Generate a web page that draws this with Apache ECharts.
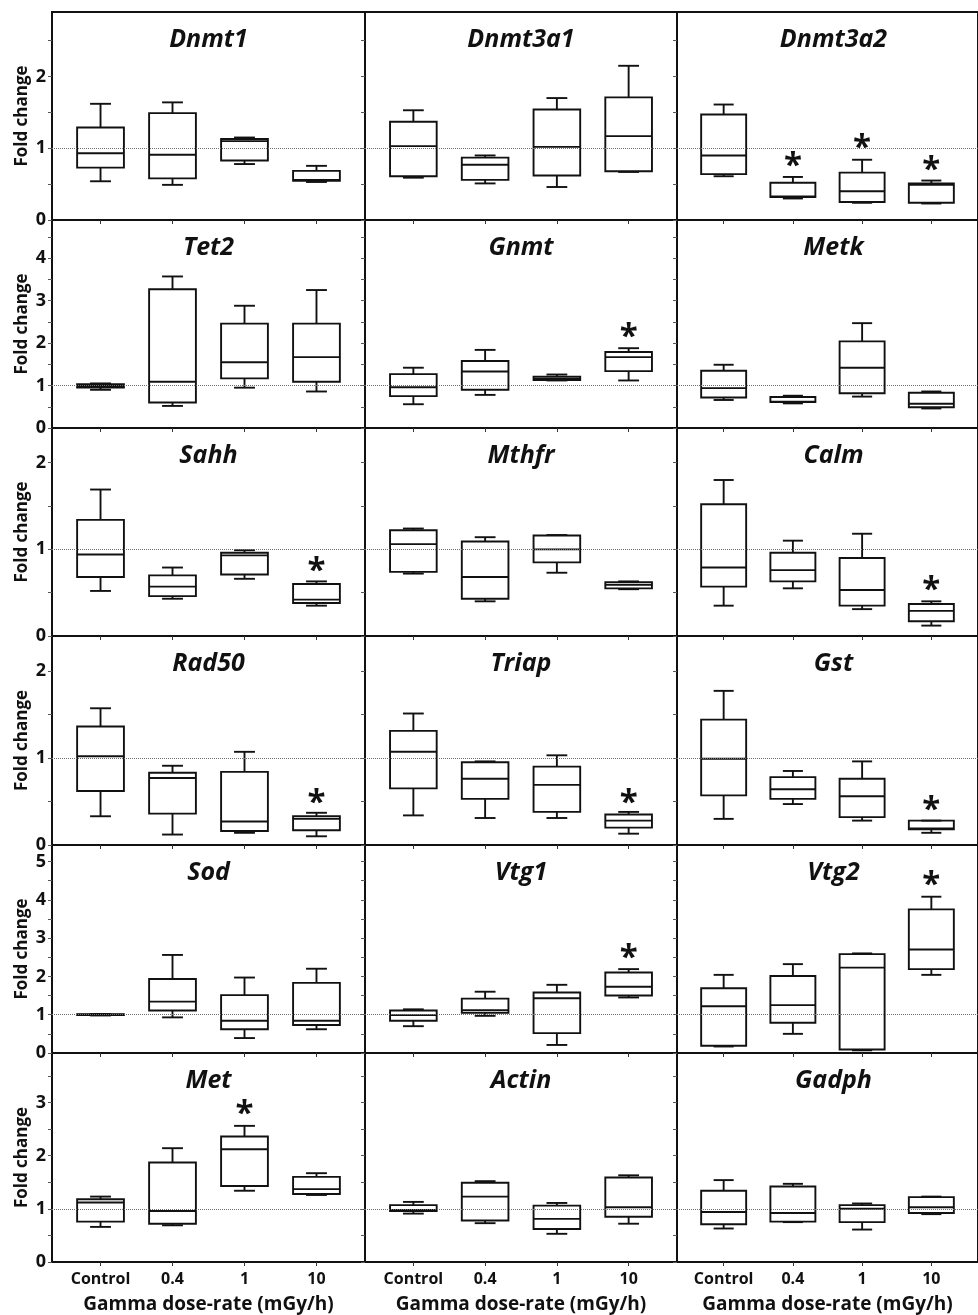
<!DOCTYPE html>
<html>
<head>
<meta charset="utf-8">
<script src="https://cdn.jsdelivr.net/npm/echarts@6/dist/echarts.min.js"></script>
<style>
  html, body { margin: 0; padding: 0; background: #fff; }
  #chart { width: 978px; height: 1315px; }
</style>
</head>
<body>
<div id="chart"></div>
<script>
// Dose groups on every x axis
const doseGroups = ['Control', '0.4', '1', '10'];

// Box statistics per dose group: [lower whisker, Q1, median, Q3, upper whisker]
const Dnmt1   = [[0.54, 0.73, 0.93, 1.29, 1.62], [0.49, 0.58, 0.91, 1.49, 1.64], [0.78, 0.83, 1.10, 1.13, 1.15], [0.53, 0.545, 0.56, 0.685, 0.755]];
const Dnmt3a1 = [[0.59, 0.61, 1.03, 1.37, 1.53], [0.51, 0.56, 0.77, 0.87, 0.90], [0.46, 0.62, 1.02, 1.54, 1.70], [0.67, 0.68, 1.17, 1.71, 2.15]];
const Dnmt3a2 = [[0.61, 0.64, 0.90, 1.47, 1.61], [0.30, 0.32, 0.33, 0.52, 0.60], [0.24, 0.25, 0.40, 0.66, 0.84], [0.23, 0.24, 0.49, 0.51, 0.55]];
const Tet2    = [[0.90, 0.95, 0.99, 1.03, 1.05], [0.52, 0.60, 1.09, 3.27, 3.57], [0.95, 1.17, 1.55, 2.46, 2.88], [0.86, 1.09, 1.67, 2.46, 3.25]];
const Gnmt    = [[0.56, 0.75, 0.96, 1.27, 1.42], [0.78, 0.90, 1.33, 1.58, 1.84], [1.12, 1.13, 1.17, 1.21, 1.26], [1.12, 1.34, 1.67, 1.79, 1.88]];
const Metk    = [[0.66, 0.72, 0.94, 1.35, 1.49], [0.58, 0.61, 0.62, 0.73, 0.76], [0.74, 0.82, 1.42, 2.04, 2.47], [0.46, 0.49, 0.57, 0.83, 0.86]];
const Sahh    = [[0.52, 0.68, 0.94, 1.34, 1.69], [0.43, 0.46, 0.57, 0.70, 0.79], [0.66, 0.71, 0.93, 0.96, 0.99], [0.35, 0.38, 0.42, 0.60, 0.63]];
const Mthfr   = [[0.72, 0.74, 1.06, 1.22, 1.24], [0.40, 0.43, 0.68, 1.09, 1.14], [0.73, 0.85, 1.00, 1.16, 1.165], [0.54, 0.55, 0.59, 0.62, 0.63]];
const Calm    = [[0.35, 0.57, 0.79, 1.52, 1.80], [0.55, 0.63, 0.76, 0.96, 1.10], [0.31, 0.35, 0.53, 0.90, 1.18], [0.12, 0.17, 0.29, 0.37, 0.40]];
const Rad50   = [[0.33, 0.62, 1.02, 1.36, 1.57], [0.12, 0.36, 0.77, 0.83, 0.91], [0.14, 0.16, 0.27, 0.84, 1.07], [0.10, 0.17, 0.30, 0.33, 0.37]];
const Triap   = [[0.34, 0.65, 1.07, 1.31, 1.51], [0.31, 0.53, 0.76, 0.95, 0.96], [0.31, 0.38, 0.69, 0.90, 1.03], [0.13, 0.20, 0.28, 0.35, 0.38]];
const Gst     = [[0.30, 0.57, 0.99, 1.44, 1.77], [0.47, 0.53, 0.64, 0.78, 0.85], [0.28, 0.32, 0.56, 0.76, 0.96], [0.14, 0.18, 0.19, 0.28, 0.28]];
const Sod     = [[0.98, 0.99, 1.00, 1.01, 1.02], [0.93, 1.11, 1.34, 1.93, 2.56], [0.39, 0.62, 0.84, 1.51, 1.97], [0.62, 0.73, 0.84, 1.83, 2.20]];
const Vtg1    = [[0.70, 0.84, 0.99, 1.11, 1.14], [0.97, 1.05, 1.12, 1.42, 1.60], [0.21, 0.52, 1.43, 1.58, 1.78], [1.45, 1.50, 1.73, 2.10, 2.19]];
const Vtg2    = [[0.17, 0.19, 1.22, 1.69, 2.04], [0.50, 0.79, 1.25, 2.01, 2.32], [0.07, 0.09, 2.23, 2.58, 2.60], [2.04, 2.19, 2.70, 3.75, 4.08]];
const Met     = [[0.66, 0.76, 1.12, 1.18, 1.23], [0.69, 0.72, 0.96, 1.87, 2.14], [1.34, 1.43, 2.12, 2.36, 2.56], [1.26, 1.28, 1.37, 1.60, 1.67]];
const Actin   = [[0.91, 0.96, 0.98, 1.07, 1.13], [0.73, 0.78, 1.23, 1.49, 1.52], [0.53, 0.62, 0.81, 1.06, 1.11], [0.72, 0.85, 1.03, 1.59, 1.63]];
const Gadph   = [[0.63, 0.71, 0.94, 1.34, 1.54], [0.75, 0.76, 0.92, 1.42, 1.47], [0.61, 0.75, 1.00, 1.07, 1.10], [0.90, 0.92, 1.03, 1.22, 1.23]];

// Panels in reading order (3 per row)
const geneNames = ['Dnmt1', 'Dnmt3a1', 'Dnmt3a2', 'Tet2', 'Gnmt', 'Metk', 'Sahh', 'Mthfr', 'Calm',
                   'Rad50', 'Triap', 'Gst', 'Sod', 'Vtg1', 'Vtg2', 'Met', 'Actin', 'Gadph'];
const geneStats = [Dnmt1, Dnmt3a1, Dnmt3a2, Tet2, Gnmt, Metk, Sahh, Mthfr, Calm,
                   Rad50, Triap, Gst, Sod, Vtg1, Vtg2, Met, Actin, Gadph];

// Significance asterisks: [gene, dose group index, fold change where the asterisk sits]
const sigMarks = [
  ['Dnmt3a2', 1, 0.84], ['Dnmt3a2', 2, 1.10], ['Dnmt3a2', 3, 0.79],
  ['Gnmt', 3, 2.29], ['Sahh', 3, 0.82], ['Calm', 3, 0.60],
  ['Rad50', 3, 0.56], ['Triap', 3, 0.56], ['Gst', 3, 0.48],
  ['Vtg1', 3, 2.66], ['Vtg2', 3, 4.56], ['Met', 2, 2.91]
];

// Y axis range and labelled ticks per row of panels
const rowYMax = [2.9, 4.9, 2.4, 2.4, 5.43, 3.93];
const rowYLabels = [[0, 1, 2], [0, 1, 2, 3, 4], [0, 1, 2], [0, 1, 2], [0, 1, 2, 3, 4, 5], [0, 1, 2, 3]];
const refLevel = 1;

// Layout of the 3 x 6 panel grid
const colLeft = [52, 365, 677];
const colWidth = [313, 312, 313];
const rowTop = [12, 220, 428, 636, 845, 1053];
const rowBottom = [220, 428, 636, 845, 1053, 1262];

const FONT = '"Open Sans", "DejaVu Sans", sans-serif';
const INK = '#111111';

const chart = echarts.init(document.getElementById('chart'), null, { renderer: 'canvas' });

const grids = [], xAxes = [], yAxes = [], series = [], graphics = [];

function renderBox(params, api) {
  const x = api.value(0);
  const lo = api.coord([x, api.value(1)]);
  const q1 = api.coord([x, api.value(2)]);
  const md = api.coord([x, api.value(3)]);
  const q3 = api.coord([x, api.value(4)]);
  const hi = api.coord([x, api.value(5)]);
  const unit = api.size([1, 0])[0];
  const bw = unit * 0.65, cw = unit * 0.29;
  const cx = lo[0];
  const st = { stroke: INK, lineWidth: 1.9, fill: null };
  return {
    type: 'group',
    children: [
      { type: 'line', shape: { x1: cx, y1: hi[1], x2: cx, y2: q3[1] }, style: st },
      { type: 'line', shape: { x1: cx, y1: q1[1], x2: cx, y2: lo[1] }, style: st },
      { type: 'line', shape: { x1: cx - cw / 2, y1: hi[1], x2: cx + cw / 2, y2: hi[1] }, style: st },
      { type: 'line', shape: { x1: cx - cw / 2, y1: lo[1], x2: cx + cw / 2, y2: lo[1] }, style: st },
      { type: 'rect', shape: { x: cx - bw / 2, y: q3[1], width: bw, height: q1[1] - q3[1] },
        style: { stroke: INK, lineWidth: 1.9, fill: 'none' } },
      { type: 'line', shape: { x1: cx - bw / 2, y1: md[1], x2: cx + bw / 2, y2: md[1] }, style: st }
    ]
  };
}

function renderStar(params, api) {
  const p = api.coord([api.value(0), api.value(1)]);
  return {
    type: 'text',
    x: p[0], y: p[1] + 7,
    style: { text: '*', font: 'bold 33px ' + FONT, fill: INK, align: 'center', verticalAlign: 'middle' }
  };
}

geneNames.forEach((gene, i) => {
  const row = Math.floor(i / 3), col = i % 3;
  const top = rowTop[row], h = rowBottom[row] - rowTop[row];
  const isBottom = row === 5, isLeft = col === 0;
  const yMax = rowYMax[row];
  const halfTicks = [];
  for (let v = 0; v <= yMax + 1e-9; v += 0.5) halfTicks.push(v);

  grids.push({
    left: colLeft[col], top: top, width: colWidth[col], height: h,
    show: true, borderColor: INK, borderWidth: 2, backgroundColor: 'transparent'
  });

  xAxes.push({
    gridIndex: i, type: 'value', min: -0.674, max: 3.674,
    axisLine: { show: true, onZero: false, lineStyle: { color: INK, width: 2 } },
    axisTick: { show: true, customValues: [0, 1, 2, 3], length: 4, lineStyle: { color: '#333', width: 1 } },
    axisLabel: {
      show: isBottom, customValues: [0, 1, 2, 3], margin: 9,
      formatter: v => doseGroups[Math.round(v)],
      fontFamily: FONT, fontWeight: 'bold', fontSize: 16, color: INK
    },
    splitLine: { show: false },
    name: isBottom ? 'Gamma dose-rate (mGy/h)' : '',
    nameLocation: 'middle', nameGap: 33,
    nameTextStyle: { fontFamily: FONT, fontWeight: 'bold', fontSize: 19, color: INK }
  });

  yAxes.push({
    gridIndex: i, type: 'value', min: 0, max: yMax,
    axisLine: { show: true, onZero: false, lineStyle: { color: INK, width: 2 } },
    axisTick: { show: true, customValues: halfTicks, length: 4, lineStyle: { color: '#555', width: 1 } },
    axisLabel: {
      show: isLeft, customValues: rowYLabels[row], margin: 6,
      fontFamily: FONT, fontWeight: 'bold', fontSize: 18, color: INK
    },
    splitLine: { show: false },
    name: isLeft ? 'Fold change' : '',
    nameLocation: 'middle', nameGap: 21, nameRotate: 90,
    nameTextStyle: { fontFamily: FONT, fontWeight: 'bold', fontSize: 17, color: INK }
  });

  series.push({
    type: 'custom', name: gene, xAxisIndex: i, yAxisIndex: i,
    renderItem: renderBox, silent: true,
    encode: { x: 0, y: [1, 2, 3, 4, 5] },
    data: geneStats[i].map((s, k) => [k].concat(s)),
    markLine: {
      silent: true, symbol: 'none', label: { show: false },
      lineStyle: { type: 'dotted', color: '#6f6f6f', width: 1 },
      data: [{ yAxis: refLevel }]
    },
    z: 3
  });

  const stars = sigMarks.filter(m => m[0] === gene).map(m => [m[1], m[2]]);
  if (stars.length) {
    series.push({
      type: 'custom', name: gene + ' *', xAxisIndex: i, yAxisIndex: i,
      renderItem: renderStar, silent: true,
      encode: { x: 0, y: 1 }, data: stars, z: 4
    });
  }

  graphics.push({
    type: 'text', x: colLeft[col] + colWidth[col] / 2, y: top + 28,
    style: {
      text: gene, font: 'italic bold 25px ' + FONT, fill: INK,
      align: 'center', verticalAlign: 'middle'
    }
  });
});

chart.setOption({
  animation: false,
  backgroundColor: '#fff',
  grid: grids,
  xAxis: xAxes,
  yAxis: yAxes,
  series: series,
  graphic: graphics
});
</script>
</body>
</html>
